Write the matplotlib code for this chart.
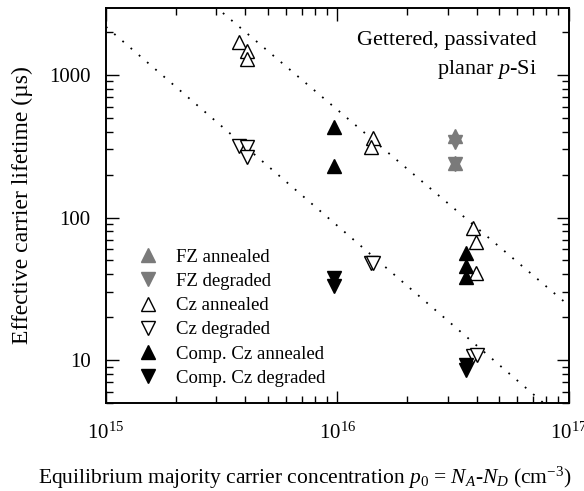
import numpy as np
import matplotlib
matplotlib.use('Agg')
import matplotlib.pyplot as plt
from matplotlib.ticker import FixedLocator, FuncFormatter, LogLocator, NullFormatter

plt.rcParams['font.family'] = 'Liberation Serif'
plt.rcParams['mathtext.fontset'] = 'custom'
plt.rcParams['mathtext.rm'] = 'Liberation Serif'
plt.rcParams['mathtext.it'] = 'Liberation Serif:italic'

# carrier concentration p0 (cm^-3) and effective lifetime (us)
fz_ann_p = [3.22e16, 3.22e16]
fz_ann_tau = [375, 240]
fz_deg_p = [3.22e16, 3.22e16]
fz_deg_tau = [340, 236]

cz_ann_p = [3.76e15, 4.06e15, 4.06e15, 1.42e16, 1.40e16, 3.85e16, 3.96e16, 3.96e16]
cz_ann_tau = [1700, 1470, 1300, 360, 313, 84, 67, 41]
cz_deg_p = [3.76e15, 4.06e15, 4.06e15, 1.40e16, 1.43e16, 3.85e16, 4.0e16]
cz_deg_tau = [318, 312, 266, 48, 48, 10.7, 10.9]

comp_ann_p = [9.66e15, 9.66e15, 3.59e16, 3.59e16, 3.59e16]
comp_ann_tau = [431, 230, 56, 46, 38]
comp_deg_p = [9.66e15, 9.66e15, 3.59e16, 3.59e16]
comp_deg_tau = [37.5, 33, 9.2, 8.5]

# dotted guide lines: log10(tau) = a + b * (log10(p0) - 15)
guide_a = [4.127, 3.337]
guide_b = [-1.372, -1.395]

fig = plt.figure(figsize=(5.84, 4.91), dpi=100)
ax = fig.add_axes([0.1815, 0.179, 0.7925, 0.805])
ax.set_xscale('log')
ax.set_yscale('log')
ax.set_xlim(1e15, 1e17)
ax.set_ylim(5, 2950)

x_line = np.logspace(15, 17, 200)
for a, b in zip(guide_a, guide_b):
    ax.plot(x_line, 10 ** (a + b * (np.log10(x_line) - 15)), color='black',
            lw=1.3, linestyle=(0, (1, 5)))

grey = '#7a7a7a'
ms = 9.5
ax.plot(fz_ann_p, fz_ann_tau, '^', color=grey, ms=ms, mec=grey, label='FZ annealed')
ax.plot(fz_deg_p, fz_deg_tau, 'v', color=grey, ms=ms, mec=grey, label='FZ degraded')
ax.plot(cz_ann_p, cz_ann_tau, '^', mfc='white', mec='black', mew=1.0, ms=ms, label='Cz annealed')
ax.plot(cz_deg_p, cz_deg_tau, 'v', mfc='white', mec='black', mew=1.0, ms=ms, label='Cz degraded')
ax.plot(comp_ann_p, comp_ann_tau, '^', color='black', ms=ms, label='Comp. Cz annealed')
ax.plot(comp_deg_p, comp_deg_tau, 'v', color='black', ms=ms, label='Comp. Cz degraded')

ax.legend(loc='upper left', bbox_to_anchor=(0.055, 0.41), frameon=False, fontsize=13.5,
          handlelength=1.0, handletextpad=1.0, labelspacing=0.38, borderaxespad=0)

ax.text(0.931, 0.917, 'Gettered, passivated', transform=ax.transAxes,
        ha='right', va='center', fontsize=16)
ax.text(0.931, 0.845, 'planar $\\mathit{p}$-Si', transform=ax.transAxes,
        ha='right', va='center', fontsize=16)

ax.yaxis.set_major_locator(FixedLocator([10, 100, 1000]))
ax.yaxis.set_major_formatter(FuncFormatter(lambda v, pos: '%d' % v))
ax.yaxis.set_minor_locator(LogLocator(base=10, subs=np.arange(2, 10)))
ax.yaxis.set_minor_formatter(NullFormatter())
ax.xaxis.set_major_locator(FixedLocator([1e15, 1e16, 1e17]))
ax.xaxis.set_major_formatter(FuncFormatter(lambda v, pos: '$10^{%d}$' % round(np.log10(v))))
ax.xaxis.set_minor_locator(LogLocator(base=10, subs=np.arange(2, 10)))
ax.xaxis.set_minor_formatter(NullFormatter())

ax.tick_params(which='both', direction='in', top=True, right=True, labelsize=15, width=1.0)
ax.tick_params(which='major', length=9)
ax.tick_params(which='minor', length=5)
ax.tick_params(axis='y', which='major', pad=11)
ax.tick_params(axis='x', which='major', pad=14)
for s in ax.spines.values():
    s.set_linewidth(1.4)

ax.set_xlabel('Equilibrium majority carrier concentration $\\mathit{p_0}$ = $\\mathit{N_A}$-$\\mathit{N_D}$ (cm$^{-3}$)',
              fontsize=15.5, labelpad=15)
ax.xaxis.label.set_x(0.43)
ax.set_ylabel('Effective carrier lifetime (\u00b5s)', fontsize=17, labelpad=12)

fig.savefig('out.png', dpi=100)
